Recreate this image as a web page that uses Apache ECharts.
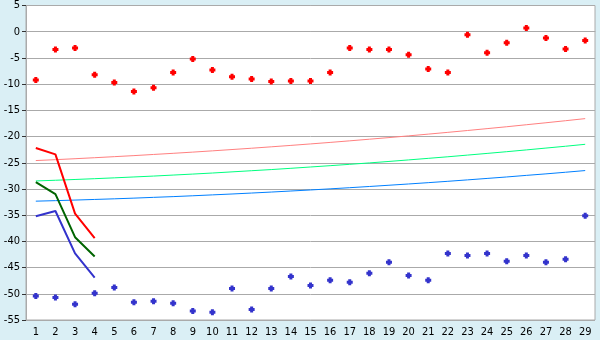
<!DOCTYPE html>
<html><head><meta charset="utf-8">
<script src="https://cdn.jsdelivr.net/npm/echarts@6/dist/echarts.min.js"></script>
<style>html,body{margin:0;padding:0;background:#DAEFF5;}#c{width:600px;height:340px;}</style>
</head><body><div id="c"></div>
<script>
const categories = ['1','2','3','4','5','6','7','8','9','10','11','12','13','14','15','16','17','18','19','20','21','22','23','24','25','26','27','28','29'];
const redPoints = [-9.2,-3.4,-3.1,-8.2,-9.7,-11.4,-10.7,-7.8,-5.2,-7.3,-8.6,-9.0,-9.5,-9.4,-9.4,-7.8,-3.1,-3.4,-3.4,-4.4,-7.1,-7.8,-0.6,-4.0,-2.1,0.7,-1.2,-3.3,-1.7];
const bluePoints = [-50.4,-50.7,-52.0,-49.9,-48.8,-51.6,-51.4,-51.8,-53.3,-53.5,-49.0,-53.0,-49.0,-46.7,-48.4,-47.4,-47.8,-46.1,-44.0,-46.5,-47.4,-42.3,-42.7,-42.3,-43.8,-42.7,-44.0,-43.4,-35.1];
const redLine = [-22.2,-23.4,-34.7,-39.4];
const greenLine = [-28.7,-31.0,-39.2,-42.9];
const blueLine = [-35.2,-34.2,-42.3,-46.9];
const pinkTrend = [-24.58,-24.41,-24.23,-24.04,-23.84,-23.64,-23.42,-23.20,-22.97,-22.73,-22.48,-22.23,-21.96,-21.69,-21.41,-21.12,-20.82,-20.51,-20.20,-19.87,-19.54,-19.20,-18.85,-18.49,-18.13,-17.75,-17.37,-16.98,-16.58];
const greenTrend = [-28.47,-28.34,-28.19,-28.04,-27.88,-27.71,-27.54,-27.35,-27.16,-26.96,-26.74,-26.52,-26.30,-26.06,-25.81,-25.56,-25.30,-25.03,-24.75,-24.46,-24.16,-23.86,-23.54,-23.22,-22.89,-22.55,-22.20,-21.85,-21.48];
const blueTrend = [-32.33,-32.23,-32.12,-32.00,-31.88,-31.75,-31.60,-31.46,-31.30,-31.13,-30.96,-30.78,-30.59,-30.39,-30.19,-29.98,-29.76,-29.53,-29.29,-29.05,-28.80,-28.54,-28.27,-27.99,-27.71,-27.41,-27.12,-26.81,-26.49];

const chart = echarts.init(document.getElementById('c'), null, {renderer:'canvas'});
const mk = 'path://M1,0H3V1H4V3H3V4H1V3H0V1H1Z';
const font = '"DejaVu Sans Condensed", "Liberation Sans", sans-serif';
function line(name, data, color, width){
  return {name, type:'line', data, symbol:'none', showSymbol:false, lineStyle:{color, width}, itemStyle:{color}, silent:true, animation:false, z: width>1?4:3};
}
function pts(name, data, color){
  return {name, type:'line', data, symbol:mk, symbolSize:6, showSymbol:true, lineStyle:{width:0, opacity:0}, itemStyle:{color}, silent:true, animation:false, z:5};
}
chart.setOption({
  backgroundColor:'#DAEFF5',
  animation:false,
  grid:{left:26, right:5, top:5, bottom:20, show:true, backgroundColor:'#FFFFFF', borderColor:'#AAAAAA', borderWidth:1},
  xAxis:{type:'category', data:categories, boundaryGap:true,
    axisLine:{lineStyle:{color:'#AAAAAA', width:1}},
    axisTick:{alignWithLabel:true, length:5, lineStyle:{color:'#333333'}},
    axisLabel:{color:'#000000', fontFamily:font, fontSize:11, margin:7, interval:0},
    splitLine:{show:false}},
  yAxis:{type:'value', min:-55, max:5, interval:5,
    axisLine:{show:true, lineStyle:{color:'#AAAAAA'}},
    axisTick:{show:true, length:4, lineStyle:{color:'#333333'}},
    axisLabel:{color:'#000000', fontFamily:font, fontSize:11, margin:6, formatter:v=>String(v)},
    splitLine:{lineStyle:{color:'#AAAAAA', width:1}}},
  series:[
    line('pinkTrend', pinkTrend, '#FF8080', 1),
    line('greenTrend', greenTrend, '#00FF80', 1),
    line('blueTrend', blueTrend, '#0080FF', 1),
    line('red', redLine, '#FF0000', 2),
    line('green', greenLine, '#006400', 2),
    line('blue', blueLine, '#3333CC', 2),
    pts('redPts', redPoints, '#FF0000'),
    pts('bluePts', bluePoints, '#3333CC')
  ]
});
</script></body></html>
